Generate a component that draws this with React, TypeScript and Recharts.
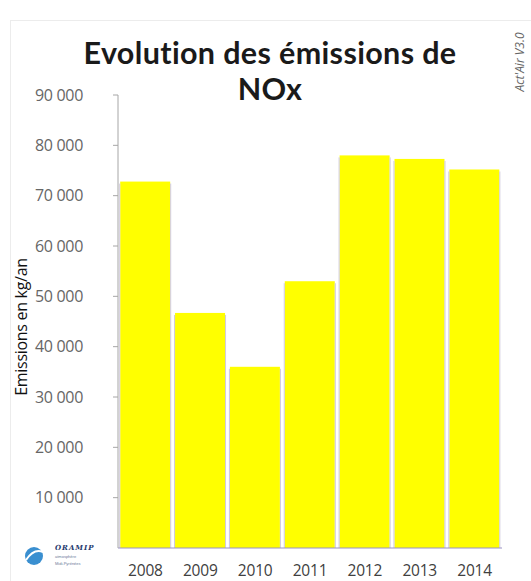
import React from 'react';
import { BarChart, Bar, XAxis, YAxis } from 'recharts';

const years = ['2008', '2009', '2010', '2011', '2012', '2013', '2014'];
const emissions = [72800, 46700, 36000, 53000, 78000, 77300, 75200];
const yTicks = [10000, 20000, 30000, 40000, 50000, 60000, 70000, 80000, 90000];

const data = years.map((y, i) => ({ year: y, value: emissions[i] }));

const fmt = (v: number) => {
  const s = String(v);
  return s.length > 3 ? s.slice(0, s.length - 3) + ' ' + s.slice(-3) : s;
};

const BarShape = (props: any) => {
  const { x, y, width, height } = props;
  if (!height || height <= 0) return null;
  return (
    <g>
      <rect x={x} y={y} width={width} height={height} fill="#ffff00" />
      <line x1={x - 0.5} y1={y + 2} x2={x - 0.5} y2={y + height} stroke="#cfc9dc" strokeWidth={1} />
      <line x1={x + width + 0.5} y1={y + 2} x2={x + width + 0.5} y2={y + height} stroke="#cfc9dc" strokeWidth={1} />
    </g>
  );
};

const YTick = (props: any) => {
  const { x, y, payload } = props;
  return (
    <text x={x} y={y} dy={5.5} textAnchor="end" fill="#666" fontSize={16} fontFamily="'Open Sans', sans-serif" letterSpacing={-0.3}>
      {fmt(payload.value)}
    </text>
  );
};

const XTick = (props: any) => {
  const { x, y, payload } = props;
  return (
    <text x={x} y={y} dy={20} textAnchor="middle" fill="#404040" fontSize={15.5} fontFamily="'Open Sans', sans-serif" letterSpacing={-0.2}>
      {payload.value}
    </text>
  );
};

export default function App() {
  return (
    <div style={{ position: 'absolute', left: 0, top: 0, width: 531, height: 581, background: '#fff', overflow: 'hidden' }}>
      <div style={{ position: 'absolute', left: 10, top: 20, width: 600, height: 600, borderLeft: '1px solid #ececec', borderTop: '1px solid #ececec' }} />
      <div style={{ position: 'absolute', left: 0, top: 0 }}>
        <BarChart width={531} height={581} data={data} margin={{ top: 95, right: 29, bottom: 3, left: 18 }} barCategoryGap="4%">
          <XAxis
            dataKey="year"
            axisLine={{ stroke: '#9a92c4' }}
            tickLine={false}
            tick={<XTick />}
            height={30}
            interval={0}
          />
          <YAxis
            domain={[0, 90000]}
            ticks={yTicks}
            width={100}
            axisLine={{ stroke: '#a6a6a6' }}
            tickLine={{ stroke: '#a6a6a6' }}
            tickSize={5}
            tickMargin={30}
            tick={<YTick />}
            interval={0}
          />
          <Bar dataKey="value" shape={<BarShape />} isAnimationActive={false} />
        </BarChart>
      </div>
      <svg style={{ position: 'absolute', left: 0, top: 0 }} width={531} height={581}>
        <text textAnchor="middle" fontSize={30.5} fontWeight="bold" fill="#1a1a1a" fontFamily="Lato, sans-serif" style={{ fontVariantLigatures: 'none' }} letterSpacing={0.35}>
          <tspan x={270} y={64}>Evolution des émissions de</tspan>
          <tspan x={270} y={100}>NOx</tspan>
        </text>
        <text transform="translate(27,327) rotate(-90)" textAnchor="middle" fontSize={16} fill="#111" fontFamily="'Open Sans', sans-serif" letterSpacing={-0.3}>
          Emissions en kg/an
        </text>
        <text transform="translate(524,62) rotate(-90)" textAnchor="middle" fontSize={12} fontStyle="italic" fill="#666" fontFamily="'Open Sans', sans-serif">
          Act'Air  V3.0
        </text>
        <g>
          <circle cx={34} cy={556} r={9} fill="#3a8fd0" />
          <path d="M26 560 Q34 548 43 552" stroke="#fff" strokeWidth={2} fill="none" />
          <text x={55} y={550} fontSize={7} fontWeight="bold" fontStyle="italic" fill="#1f3a6e" fontFamily="'DejaVu Serif', serif" letterSpacing={1}>
            ORAMIP
          </text>
          <text x={55} y={558} fontSize={4} fill="#6a7a9a" fontFamily="sans-serif">
            atmosphère
          </text>
          <text x={55} y={565} fontSize={4} fill="#6a7a9a" fontFamily="sans-serif">
            Midi-Pyrénées
          </text>
        </g>
      </svg>
    </div>
  );
}
